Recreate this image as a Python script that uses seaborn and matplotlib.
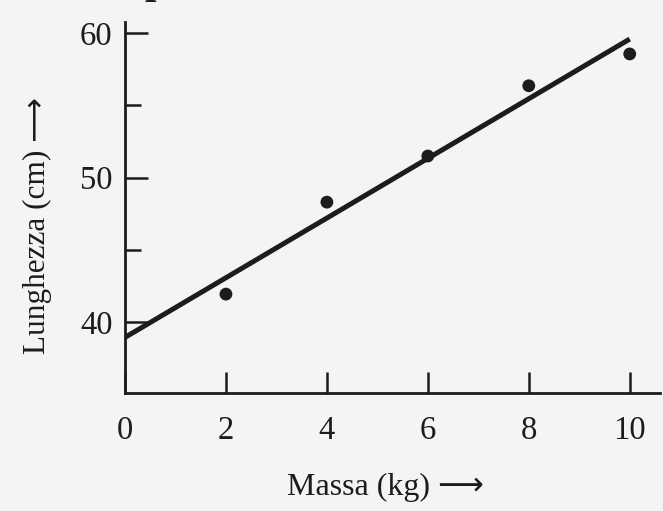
import numpy as np
import pandas as pd
import matplotlib
matplotlib.use("Agg")
import matplotlib.pyplot as plt
import seaborn as sns

# Data
massa = [2, 4, 6, 8, 10]
lunghezza = [41.94, 48.3, 51.49, 56.35, 58.55]
fit_range = [0, 10]
x_ticks = [0, 2, 4, 6, 8, 10]
y_major = [40, 50, 60]
y_minor = [45, 55]

sns.set_theme(style="white")
plt.rcParams['font.family'] = ['Liberation Serif', 'DejaVu Sans']

bg = '#f4f4f2'
ink = '#1c1c1c'

fig = plt.figure(figsize=(6.63, 5.11), dpi=100, facecolor=bg)
ax = fig.add_axes([125/663, 1 - 393/511, (660 - 125)/663, (393 - 22)/511])
ax.set_facecolor(bg)

df = pd.DataFrame({'Massa': massa, 'Lunghezza': lunghezza})
slope, intercept = np.polyfit(massa, lunghezza, 1)
fit_df = pd.DataFrame({'Massa': fit_range,
                       'Lunghezza': [slope * v + intercept for v in fit_range]})

sns.lineplot(data=fit_df, x='Massa', y='Lunghezza', ax=ax, color=ink,
             linewidth=3.6, solid_capstyle='butt', zorder=3)
sns.scatterplot(data=df, x='Massa', y='Lunghezza', ax=ax, color=ink,
                s=85, edgecolor='none', zorder=4)

ax.set_xlim(0, 10.6)
ax.set_ylim(35.1, 60.76)

for s in ['top', 'right']:
    ax.spines[s].set_visible(False)
for s in ['left', 'bottom']:
    ax.spines[s].set_color(ink)
    ax.spines[s].set_linewidth(2.0)

ax.set_xticks(x_ticks)
ax.set_xticklabels([str(v) for v in x_ticks])
ax.set_yticks(y_major)
ax.set_yticklabels([str(v) for v in y_major])
ax.set_yticks(y_minor, minor=True)

ax.tick_params(axis='x', which='major', direction='in', length=15, width=1.8,
               color=ink, pad=16, labelsize=23.5, labelcolor=ink)
ax.tick_params(axis='y', which='major', direction='in', length=16.5, width=1.8,
               color=ink, pad=9, labelsize=23.5, labelcolor=ink, left=True)
ax.tick_params(axis='y', which='minor', direction='in', length=11.5, width=1.8,
               color=ink, left=True)
ax.tick_params(axis='x', bottom=True)

ax.set_xlabel('')
ax.set_ylabel('')
fig.text(385/663, 1 - 487/511, 'Massa (kg) \u27f6', ha='center', va='center',
         fontsize=23, color=ink)
fig.text(37/663, 1 - 225/511, 'Lunghezza (cm) \u27f6', ha='center', va='center',
         rotation=90, fontsize=22.5, color=ink)

# clipped heading glyph at top edge
fig.text(156/663, 1 + 7/511, 'p', ha='center', va='baseline', fontsize=30,
         fontweight='bold', color=ink)

fig.savefig('out.png', dpi=100, facecolor=bg)
